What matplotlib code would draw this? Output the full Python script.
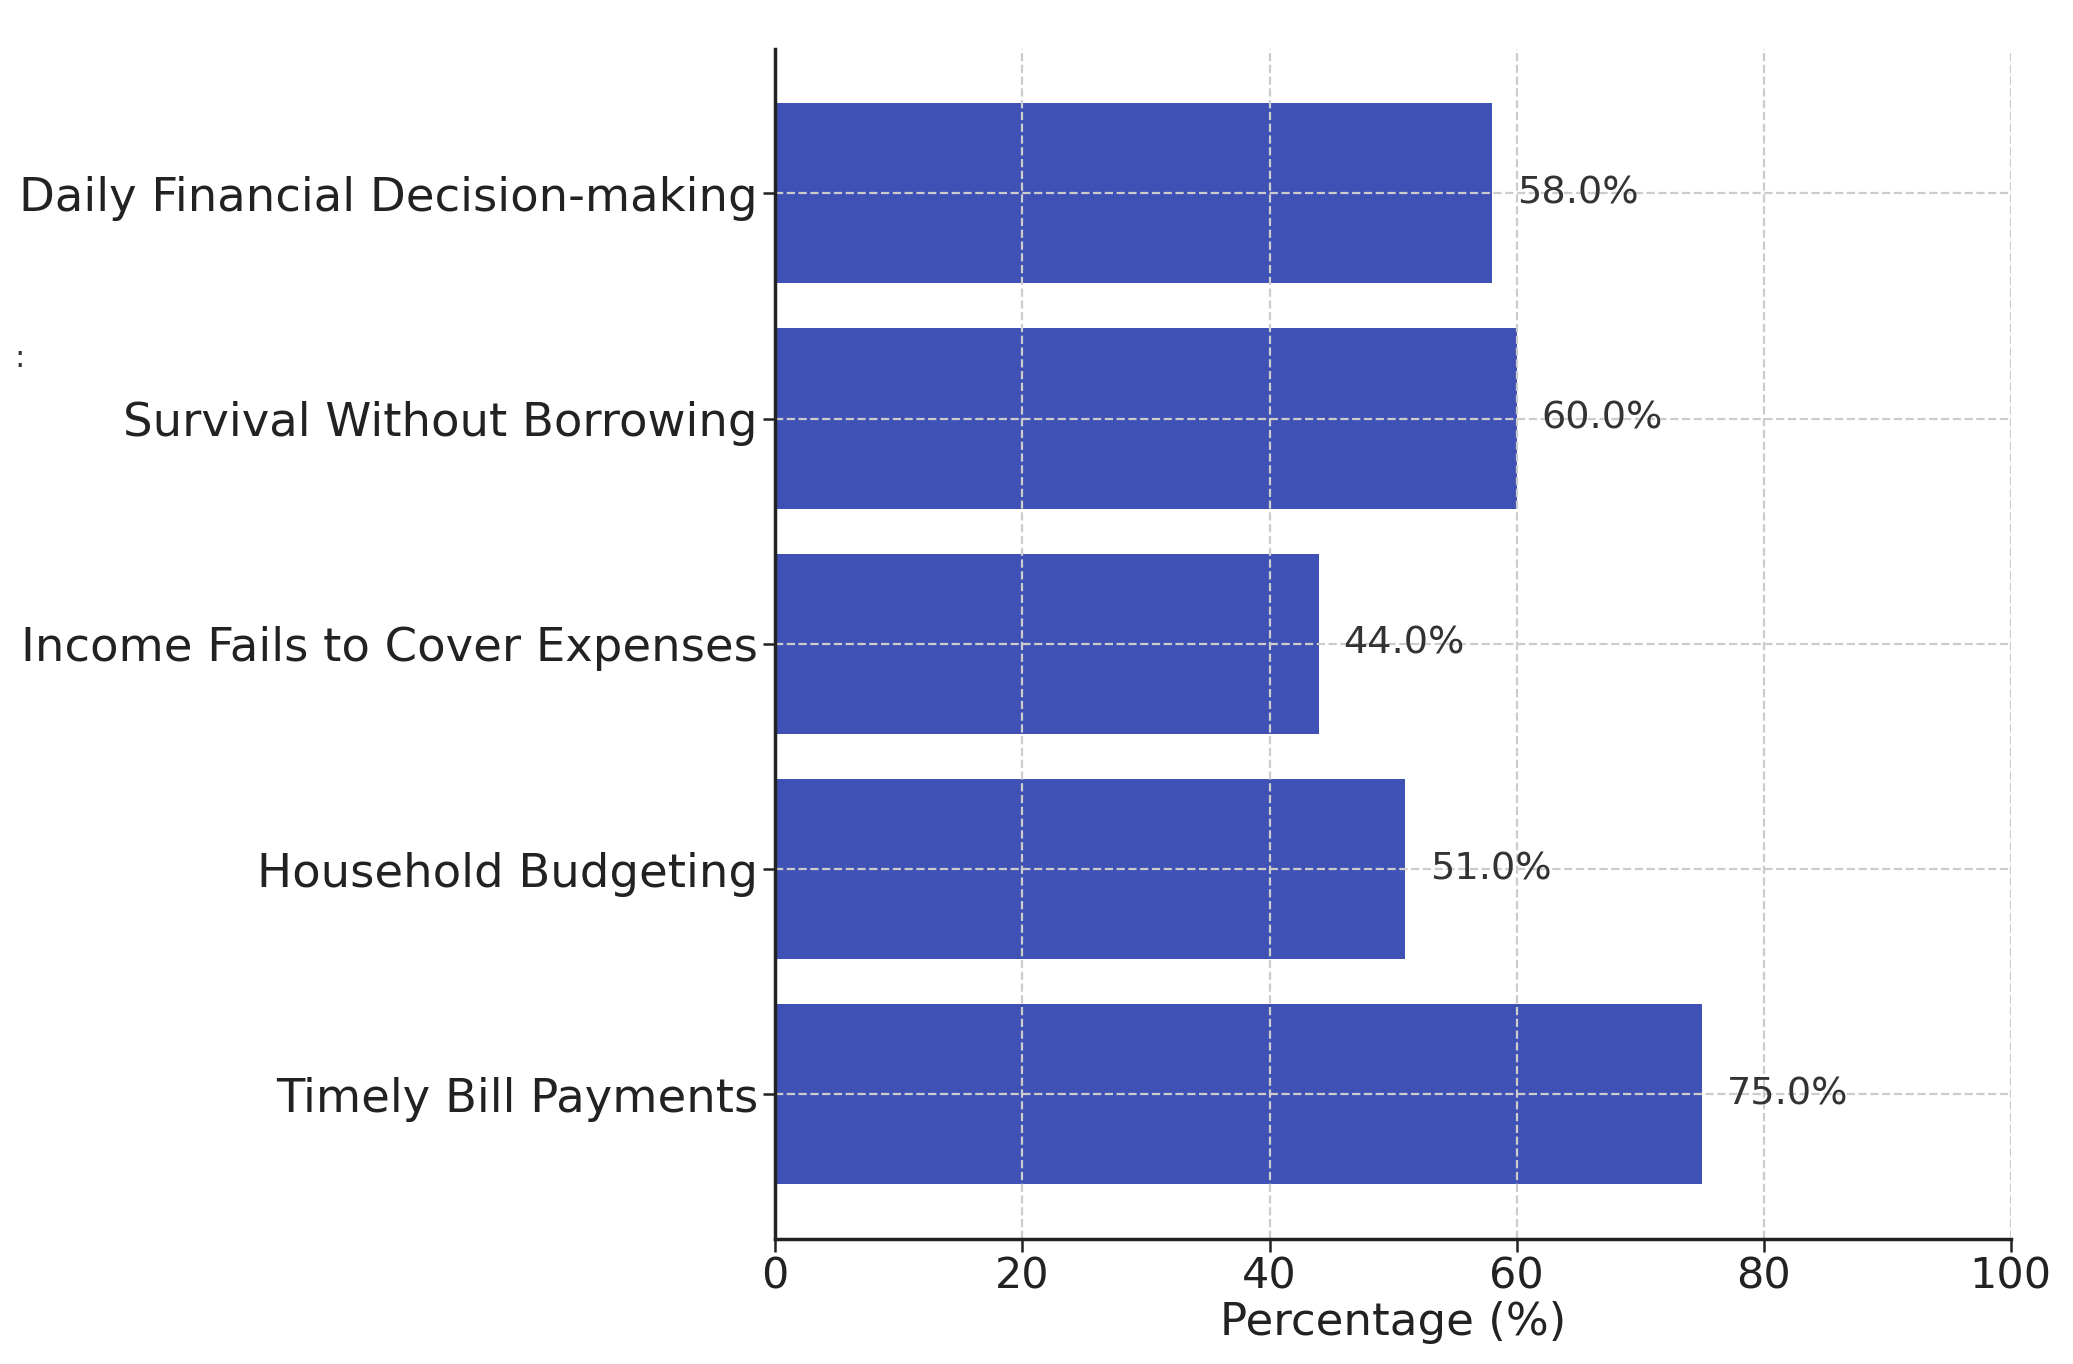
import matplotlib.pyplot as plt

categories = ["Timely Bill Payments", "Household Budgeting",
              "Income Fails to Cover Expenses", "Survival Without Borrowing",
              "Daily Financial Decision-making"]
values = [75.0, 51.0, 44.0, 60.0, 58.0]
xticks = [0, 20, 40, 60, 80, 100]

fig = plt.figure(figsize=(20.73, 13.64), dpi=100)
ax = fig.add_axes([0.374, 0.092, 0.596, 0.872])

ax.barh(categories, values, height=0.8, color="#3F51B5", zorder=1)
for i, v in enumerate(values):
    ax.text(v + 2, i, f"{v:.1f}%", va="center", ha="left",
            fontsize=27.5, color="#333333", zorder=3)

ax.set_xlim(0, 100)
ax.set_xticks(xticks)
ax.set_xlabel("Percentage (%)", fontsize=32.5, color="#222222", labelpad=2)
ax.tick_params(axis="x", labelsize=31, length=9, width=1.8, colors="#222222")
ax.tick_params(axis="y", labelsize=33.5, length=9, width=1.8, colors="#222222")
ax.grid(True, linestyle="--", color="#cccccc", linewidth=1.6, zorder=2)
ax.set_axisbelow(False)
for s in ["top", "right"]:
    ax.spines[s].set_visible(False)
for s in ["left", "bottom"]:
    ax.spines[s].set_linewidth(2.5)
    ax.spines[s].set_color("#222222")
    ax.spines[s].set_zorder(4)

# stray mark at the left edge of the original
fig.text(0.007, 0.737, ":", fontsize=22, color="#333333", va="center")

fig.savefig("out.png", dpi=100)
